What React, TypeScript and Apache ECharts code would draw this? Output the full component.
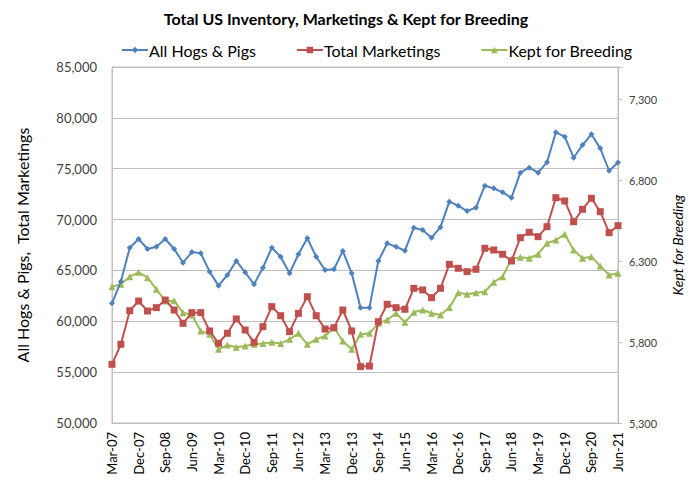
import React, { useEffect, useRef } from "react";
import * as echarts from "echarts";

const months = ["Mar", "Jun", "Sep", "Dec"];
const categories: string[] = [];
for (let y = 2007; y <= 2021; y++) {
  for (const m of months) {
    if (y === 2021 && (m === "Sep" || m === "Dec")) continue;
    categories.push(`${m}-${String(y).slice(2)}`);
  }
}

const allHogsPigs = [
  61770, 63900, 67230, 68090, 67110, 67330, 68090, 67110, 65760, 66810,
  66680, 64880, 63500, 64550, 65930, 64820, 63630, 65270, 67230, 66350,
  64720, 66590, 68160, 66350, 65040, 65110, 66910, 64720, 61340, 61340,
  65930, 67660, 67330, 66940, 69200, 68970, 68220, 69250, 71760, 71370,
  70840, 71170, 73330, 73070, 72680, 72150, 74610, 75100, 74610, 75630,
  78580, 78150, 76080, 77330, 78380, 77000, 74800, 75600,
];

const totalMarketings = [
  55770, 57740, 61040, 61990, 61010, 61340, 62090, 61110, 59800, 60850,
  60850, 59050, 57840, 58820, 60230, 59140, 57930, 59470, 61440, 60550,
  58980, 60780, 62420, 60550, 59240, 59370, 61110, 59050, 55540, 55600,
  59960, 61670, 61340, 61180, 63240, 63080, 62320, 63240, 65600, 65210,
  64880, 65110, 67180, 67010, 66590, 65930, 68220, 68750, 68320, 69300,
  72150, 71830, 69790, 71010, 72090, 70780, 68710, 69400,
];

const keptForBreeding = [
  6142, 6157, 6204, 6231, 6198, 6126, 6054, 6056, 5982, 5967,
  5869, 5848, 5755, 5782, 5768, 5776, 5786, 5792, 5799, 5792,
  5817, 5854, 5786, 5817, 5838, 5889, 5807, 5755, 5848, 5854,
  5916, 5937, 5978, 5922, 5984, 5998, 5978, 5968, 6013, 6105,
  6095, 6105, 6111, 6170, 6204, 6314, 6324, 6318, 6343, 6411,
  6431, 6466, 6369, 6318, 6328, 6270, 6215, 6225,
];

const FONT = "Lato, 'Open Sans', sans-serif";
const fmt = (v: number) => v.toLocaleString("en-US");

export default function App() {
  const ref = useRef<HTMLDivElement>(null);
  useEffect(() => {
    if (!ref.current) return;
    const chart = echarts.init(ref.current, undefined, { renderer: "svg" });
    chart.setOption({
      animation: false,
      backgroundColor: "#ffffff",
      textStyle: { fontFamily: FONT },
      title: {
        text: "Total US Inventory, Marketings & Kept for Breeding",
        left: "center",
        top: 5,
        textStyle: { fontFamily: FONT, fontSize: 16, fontWeight: "bold", color: "#000" },
      },
      legend: {
        top: 37,
        left: 116,
        itemGap: 40,
        itemWidth: 26,
        itemHeight: 8,
        textStyle: { fontFamily: FONT, fontSize: 16, color: "#000", padding: [0, 0, 0, -4] },
        data: ["All Hogs & Pigs", "Total Marketings", "Kept for Breeding"],
      },
      grid: { left: 112, right: 74, top: 67, bottom: 59, outerBoundsMode: "none", containLabel: false },
      xAxis: {
        type: "category",
        data: categories,
        boundaryGap: false,
        axisLine: { lineStyle: { color: "#bfbfbf", width: 1 } },
        axisTick: { show: false },
        axisLabel: {
          interval: 2,
          rotate: 90,
          fontSize: 13,
          color: "#000",
          fontFamily: FONT,
          margin: 9,
        },
        splitLine: { show: false },
      },
      yAxis: [
        {
          type: "value",
          min: 50000,
          max: 85000,
          interval: 5000,
          name: "All Hogs & Pigs,  Total Marketings",
          nameLocation: "middle",
          nameGap: 82,
          nameTextStyle: { fontSize: 16, color: "#000", fontFamily: FONT },
          axisLine: { show: true, lineStyle: { color: "#bfbfbf" } },
          axisTick: { show: false },
          axisLabel: { formatter: fmt, fontSize: 13, color: "#404040", fontFamily: FONT, margin: 15 },
          splitLine: { show: true, lineStyle: { color: "#bfbfbf", width: 1 } },
        },
        {
          type: "value",
          min: 5300,
          max: 7500,
          interval: 500,
          position: "right",
          name: "Kept for Breeding",
          nameLocation: "middle",
          nameGap: 52,
          nameRotate: 90,
          nameTextStyle: { fontSize: 14, color: "#000", fontStyle: "italic", fontFamily: FONT },
          axisLine: { show: true, lineStyle: { color: "#bfbfbf" } },
          axisTick: { show: true, length: 4, lineStyle: { color: "#bfbfbf" } },
          axisLabel: {
            formatter: (v: number) => (v === 7500 ? "" : fmt(v)),
            fontSize: 11,
            color: "#404040",
            fontFamily: FONT,
            margin: 11,
          },
          splitLine: { show: false },
        },
      ],
      series: [
        {
          name: "All Hogs & Pigs",
          type: "line",
          data: allHogsPigs,
          yAxisIndex: 0,
          color: "#4F81BD",
          lineStyle: { width: 2 },
          symbol: "diamond",
          symbolSize: 6,
          showAllSymbol: true,
          z: 3,
        },
        {
          name: "Total Marketings",
          type: "line",
          data: totalMarketings,
          yAxisIndex: 0,
          color: "#C0504D",
          lineStyle: { width: 2 },
          symbol: "rect",
          symbolSize: 7,
          showAllSymbol: true,
          z: 2,
        },
        {
          name: "Kept for Breeding",
          type: "line",
          data: keptForBreeding,
          yAxisIndex: 1,
          color: "#9BBB59",
          lineStyle: { width: 2 },
          symbol: "triangle",
          symbolSize: 7,
          showAllSymbol: true,
          z: 1,
        },
      ],
      graphic: [
        {
          type: "rect",
          shape: { x: 112, y: 67, width: 506, height: 356 },
          style: { fill: "none", stroke: "#bfbfbf", lineWidth: 1 },
          silent: true,
          z: 0,
        },
      ],
    });
    return () => chart.dispose();
  }, []);
  return (
    <div
      ref={ref}
      style={{ position: "fixed", left: 0, top: 0, width: 692, height: 482 }}
    />
  );
}
